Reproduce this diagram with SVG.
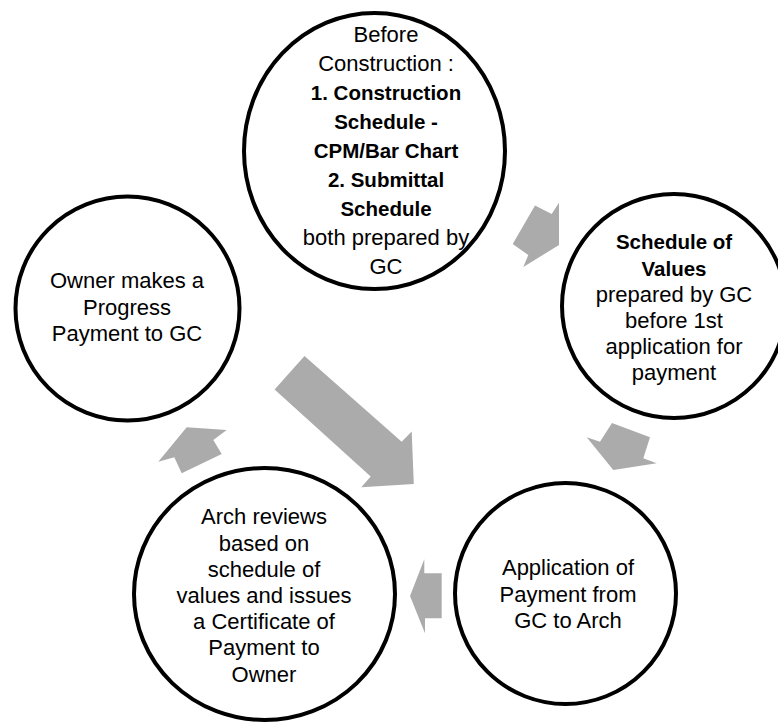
<svg xmlns="http://www.w3.org/2000/svg" width="778" height="725" viewBox="0 0 778 725">
<style>
.node{fill:#ffffff;stroke:#000000;stroke-width:4}
.arr{fill:#ABABAB;stroke:none}
text{font-family:"Liberation Sans",Arial,sans-serif;font-size:22px;fill:#000000;text-anchor:middle}
.b{font-weight:bold;font-size:20.5px}
</style>
<rect x="0" y="0" width="778" height="725" fill="#ffffff"/>
<g id="connectors">
<polygon class="arr" points="535,205.5 551.7,214 559,202.7 559,245 523.3,267 528.3,255 512.7,244"/>
<polygon class="arr" points="586.7,437.3 600,441.7 612,423 650,437.3 643.3,458.3 656.7,463.3 613.3,470"/>
<polygon class="arr" points="441.7,573.3 441.7,618.3 425,618.3 425,633.3 410,596 424.3,559.3 424.3,573.3"/>
<polygon class="arr" points="186.7,427.3 226.7,430 213.3,440 221.7,454 181.7,473.3 174.3,457.3 158.3,461.7"/>
<polygon class="arr" points="304.5,356 401.7,441.7 411.7,431.5 413.8,484 361.3,487.3 370.7,476.5 274.6,389.5"/>
</g>
<g id="node-before-construction">
<ellipse class="node" cx="374.5" cy="151" rx="130.5" ry="138"/>
<text x="386" y="41.5">Before</text>
<text x="386" y="70.5">Construction :</text>
<text class="b" x="386" y="99.5">1. Construction</text>
<text class="b" x="386" y="128.5">Schedule -</text>
<text class="b" x="386" y="157.5">CPM/Bar Chart</text>
<text class="b" x="386" y="186.5">2. Submittal</text>
<text class="b" x="386" y="215.5">Schedule</text>
<text x="386" y="244.5">both prepared by</text>
<text x="386" y="273.5">GC</text>
</g>
<g id="node-schedule-of-values">
<circle class="node" cx="674" cy="306" r="112"/>
<text class="b" x="674" y="249.3">Schedule of</text>
<text class="b" x="674" y="275.5">Values</text>
<text x="674" y="301.6">prepared by GC</text>
<text x="674" y="327.8">before 1st</text>
<text x="674" y="354">application for</text>
<text x="674" y="380">payment</text>
</g>
<g id="node-application">
<circle class="node" cx="565.5" cy="593.5" r="110.5"/>
<text x="568" y="575">Application of</text>
<text x="568" y="601.5">Payment from</text>
<text x="568" y="628">GC to Arch</text>
</g>
<g id="node-arch-reviews">
<ellipse class="node" cx="264.5" cy="594" rx="130.5" ry="126"/>
<text x="264" y="524.3">Arch reviews</text>
<text x="264" y="550.5">based on</text>
<text x="264" y="576.7">schedule of</text>
<text x="264" y="602.9">values and issues</text>
<text x="264" y="629.1">a Certificate of</text>
<text x="264" y="655.3">Payment to</text>
<text x="264" y="681.5">Owner</text>
</g>
<g id="node-owner-payment">
<circle class="node" cx="127.5" cy="308.5" r="112"/>
<text x="127" y="288.3">Owner makes a</text>
<text x="127" y="314.5">Progress</text>
<text x="127" y="340.7">Payment to GC</text>
</g>
</svg>
